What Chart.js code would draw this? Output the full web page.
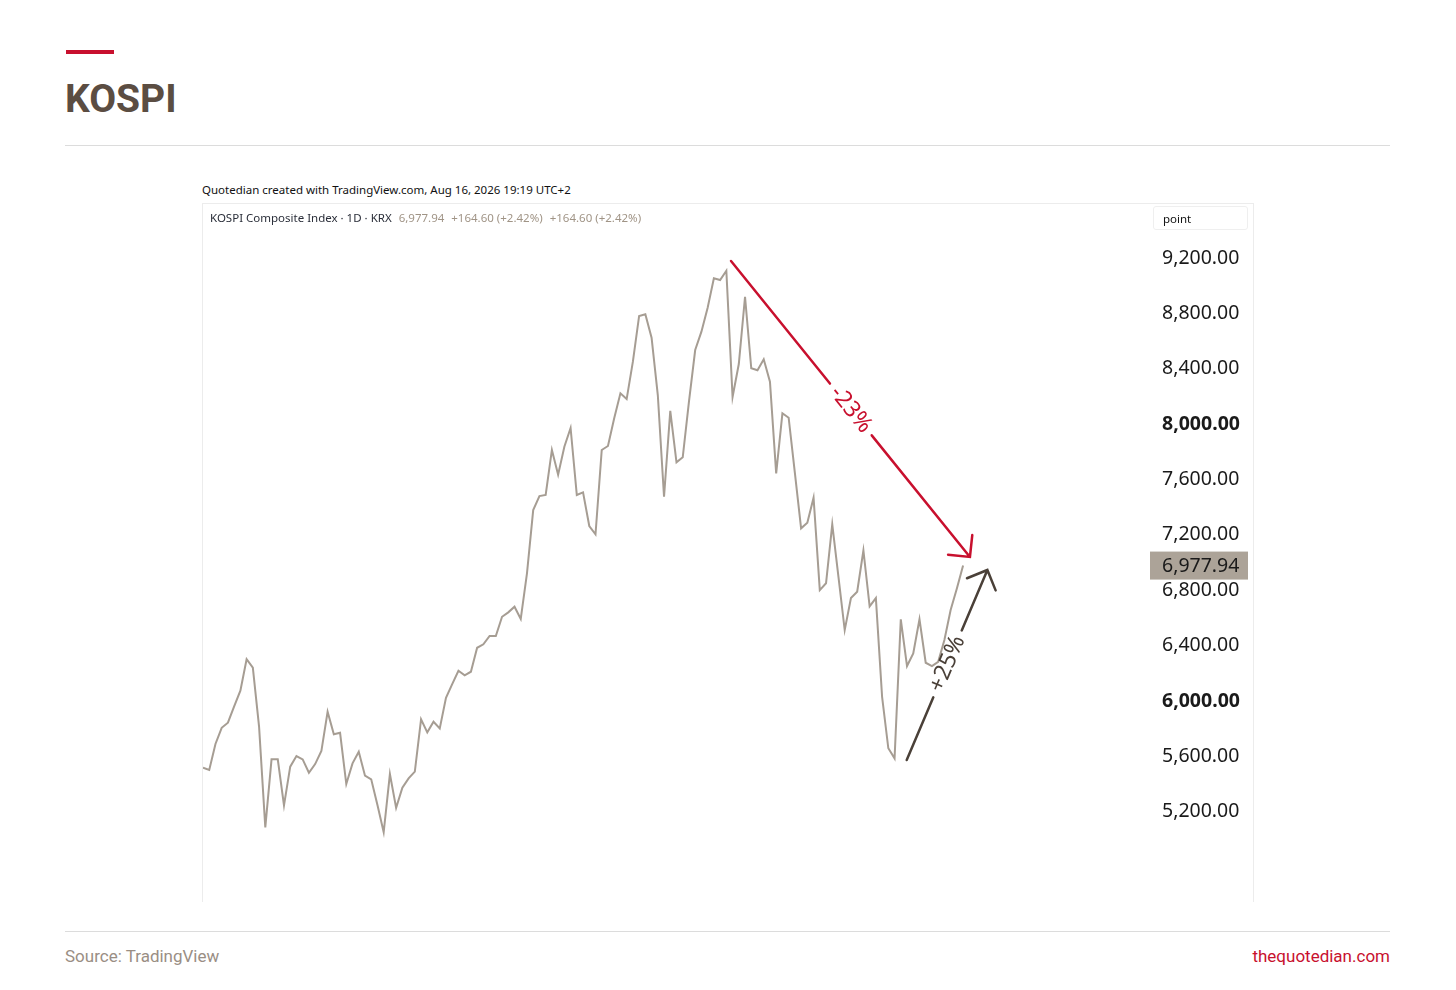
<!DOCTYPE html>
<html>
<head>
<meta charset="utf-8">
<script src="https://cdn.jsdelivr.net/npm/chart.js@4.4.1/dist/chart.umd.min.js"></script>
<style>
  body { margin: 0; background: #fff; width: 1456px; height: 990px; position: relative; overflow: hidden; }
  .abs { position: absolute; white-space: nowrap; }
  #redbar { left: 66px; top: 50px; width: 48px; height: 4px; background: #c8102e; }
  #title { left: 65px; top: 76px; font: 700 39px Roboto, sans-serif; color: #5b4d42; }
  .rule { left: 65px; width: 1325px; height: 1px; background: #dcdcdc; }
  #credit { left: 202px; top: 182px; font: 11.5px "Noto Sans", sans-serif; color: #111; }
  #frame { left: 202px; top: 203px; width: 1050px; height: 698px; border: 1px solid #ececec; border-bottom: none; }
  #legend { left: 210px; top: 210px; font: 11.5px "Noto Sans", sans-serif; color: #2a2e39; }
  #legend span { color: #a09486; margin-left: 4px; }
  #unit { left: 1153px; top: 206px; width: 95px; height: 24px; border: 1px solid #efefef; border-radius: 3px;
          font: 11.5px "Noto Sans", sans-serif; color: #111; line-height: 24px; padding-left: 9px; box-sizing: border-box; }
  #wrap { left: 203px; top: 204px; width: 1050px; height: 696px; }
  #source { left: 65px; top: 946px; font: 17px "Liberation Sans Narrow", Roboto, sans-serif; color: #9a8e84; }
  #site { right: 66px; top: 946px; font: 17px "Liberation Sans Narrow", Roboto, sans-serif; color: #c8102e; }
</style>
</head>
<body>
<div class="abs" id="redbar"></div>
<div class="abs" id="title">KOSPI</div>
<div class="abs rule" style="top:145px"></div>
<div class="abs" id="credit">Quotedian created with TradingView.com, Aug 16, 2026 19:19 UTC+2</div>
<div class="abs" id="frame"></div>
<div class="abs" id="wrap"><canvas id="kospiChart" width="1050" height="696"></canvas></div>
<div class="abs" id="legend">KOSPI Composite Index · 1D · KRX <span>6,977.94</span> <span>+164.60 (+2.42%)</span> <span>+164.60 (+2.42%)</span></div>
<div class="abs" id="unit">point</div>
<div class="abs rule" style="top:931px"></div>
<div class="abs" id="source">Source: TradingView</div>
<div class="abs" id="site">thequotedian.com</div>

<script>
// daily closes
const closes = [
  5517, 5501, 5689, 5806, 5843, 5960, 6074, 6301, 6240, 5814,
  5087, 5578, 5578, 5246, 5525, 5602, 5578, 5481, 5544, 5638,
  5922, 5759, 5770, 5400, 5549, 5633, 5460, 5434, 5248, 5051,
  5472, 5228, 5373, 5441, 5489, 5867, 5773, 5850, 5802, 6023,
  6122, 6218, 6185, 6211, 6384, 6409, 6469, 6469, 6608, 6640,
  6681, 6592, 6922, 7379, 7480, 7488, 7813, 7634, 7837, 7972,
  7488, 7507, 7264, 7204, 7813, 7842, 8042, 8222, 8181, 8451,
  8781, 8793, 8624, 8210, 7475, 8095, 7724, 7760, 8162, 8535,
  8668, 8841, 9053, 9041, 9108, 8196, 8434, 8920, 8403, 8389,
  8468, 8306, 7644, 8078, 8046, 7647, 7247, 7288, 7468, 6801,
  6850, 7276, 6895, 6512, 6743, 6789, 7087, 6683, 6743, 6030,
  5658, 5585, 6590, 6252, 6344, 6590, 6276, 6252, 6283, 6440,
  6657, 6813, 6977.94
];
const rightMarginBars = 30;

const tickValues = [5200, 5600, 6000, 6400, 6800, 7200, 7600, 8000, 8400, 8800, 9200];
const boldTicks = [6000, 8000];
const lastLabel = "6,977.94";

// arrows: [bar index, price]
const arrowDown = { from: [84.75, 9178], to: [123.1, 7040], text: "-23%", color: "#c8102e", gap: [0.414, 0.589] };
const arrowUp = { from: [112.95, 5573], to: [125.9, 6946], text: "+25%", color: "#4a4038", gap: [0.33, 0.682] };

const fmt = (v) => v.toLocaleString("en-US", { minimumFractionDigits: 2, maximumFractionDigits: 2 });

const overlay = {
  id: "overlay",
  afterDraw(chart) {
    const { ctx, scales: { x, y } } = chart;

    // last price tag
    const lastY = y.getPixelForValue(closes[closes.length - 1]);
    ctx.save();
    ctx.fillStyle = "#aca398";
    ctx.fillRect(chart.chartArea.right, lastY - 14, 98, 28);
    ctx.fillStyle = "#1a1a1a";
    ctx.font = '19.5px "Noto Sans", sans-serif';
    ctx.textBaseline = "middle";
    ctx.fillText(lastLabel, chart.chartArea.right + 12, lastY + 1);
    ctx.restore();

    [arrowDown, arrowUp].forEach((a) => {
      const x1 = x.getPixelForValue(a.from[0]);
      const y1 = y.getPixelForValue(a.from[1]);
      const x2 = x.getPixelForValue(a.to[0]);
      const y2 = y.getPixelForValue(a.to[1]);
      const dx = x2 - x1, dy = y2 - y1;
      const ang = Math.atan2(dy, dx);
      const at = (t) => [x1 + dx * t, y1 + dy * t];
      const g0 = at(a.gap[0]), g1 = at(a.gap[1]);
      const mid = at((a.gap[0] + a.gap[1]) / 2);

      ctx.save();
      ctx.strokeStyle = a.color;
      ctx.lineWidth = 2.5;
      ctx.lineCap = "round";
      ctx.beginPath();
      ctx.moveTo(x1, y1);
      ctx.lineTo(g0[0], g0[1]);
      ctx.moveTo(g1[0], g1[1]);
      ctx.lineTo(x2, y2);
      // arrow head
      const back = ang + Math.PI;
      ctx.moveTo(x2 + 22 * Math.cos(back - Math.PI / 4), y2 + 22 * Math.sin(back - Math.PI / 4));
      ctx.lineTo(x2, y2);
      ctx.lineTo(x2 + 22 * Math.cos(back + Math.PI / 4), y2 + 22 * Math.sin(back + Math.PI / 4));
      ctx.stroke();

      ctx.translate(mid[0], mid[1]);
      ctx.rotate(ang);
      ctx.fillStyle = a.color;
      ctx.font = '23px "Noto Sans", sans-serif';
      ctx.textAlign = "center";
      ctx.textBaseline = "middle";
      ctx.fillText(a.text, 0, 0);
      ctx.restore();
    });
  },
};

new Chart(document.getElementById("kospiChart"), {
  type: "line",
  data: {
    datasets: [
      {
        data: closes.map((v, i) => ({ x: i, y: v })),
        borderColor: "#a69d93",
        borderWidth: 2,
        pointRadius: 0,
        tension: 0,
      },
    ],
  },
  options: {
    responsive: false,
    animation: false,
    events: [],
    layout: { padding: 0 },
    plugins: { legend: { display: false }, tooltip: { enabled: false } },
    scales: {
      x: {
        type: "linear",
        display: false,
        min: 0,
        max: closes.length - 1 + rightMarginBars,
      },
      y: {
        position: "right",
        min: 4562,
        max: 9590,
        grid: { display: false, drawTicks: false },
        border: { display: false },
        afterBuildTicks: (scale) => {
          scale.ticks = tickValues.map((v) => ({ value: v }));
        },
        afterFit: (scale) => {
          scale.width = 103;
          scale.paddingTop = 0;
          scale.paddingBottom = 0;
        },
        ticks: {
          padding: 12,
          color: "#1a1a1a",
          callback: (v) => fmt(v),
          font: (c) => ({
            family: '"Noto Sans", sans-serif',
            size: 19.5,
            weight: c.tick && boldTicks.includes(c.tick.value) ? "bold" : "normal",
          }),
        },
      },
    },
  },
  plugins: [overlay],
});
</script>
</body>
</html>
